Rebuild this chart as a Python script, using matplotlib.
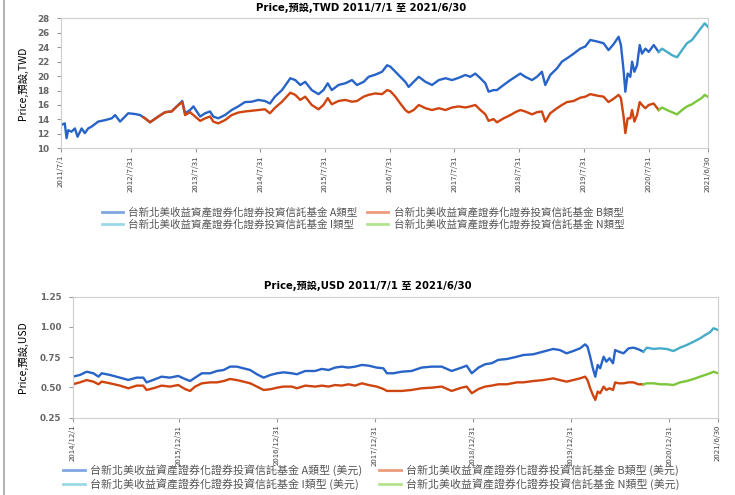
import matplotlib
matplotlib.use('Agg')
import matplotlib.pyplot as plt
from matplotlib.lines import Line2D
import pandas as pd

# ---- TWD panel (2011/7/1 - 2021/6/30) ----
twd_a_dates = ['2011-07-01', '2011-07-24', '2011-08-03', '2011-08-12', '2011-08-31', '2011-09-19',
               '2011-10-04', '2011-10-27', '2011-11-14', '2011-12-03', '2011-12-22', '2012-01-29',
               '2012-03-07', '2012-04-14', '2012-05-03', '2012-05-31', '2012-06-28', '2012-07-16',
               '2012-08-23', '2012-09-21', '2012-10-19', '2012-11-16', '2013-01-02', '2013-02-09',
               '2013-03-18', '2013-04-16', '2013-05-17', '2013-06-02', '2013-06-30', '2013-07-19',
               '2013-08-26', '2013-09-23', '2013-10-21', '2013-11-08', '2013-12-06', '2014-01-13',
               '2014-02-20', '2014-03-29', '2014-05-06', '2014-06-13', '2014-07-20', '2014-08-27',
               '2014-09-24', '2014-10-22', '2014-12-01', '2015-01-17', '2015-02-14', '2015-03-14',
               '2015-04-11', '2015-05-18', '2015-06-25', '2015-07-23', '2015-08-16', '2015-09-08',
               '2015-10-16', '2015-11-23', '2015-12-31', '2016-01-28', '2016-03-06', '2016-04-03',
               '2016-05-11', '2016-06-18', '2016-07-16', '2016-08-04', '2016-09-01', '2016-09-29',
               '2016-10-27', '2016-11-15', '2016-12-13', '2017-01-11', '2017-02-18', '2017-03-27',
               '2017-05-04', '2017-06-11', '2017-07-18', '2017-08-25', '2017-10-01', '2017-10-29',
               '2017-11-26', '2017-12-25', '2018-01-22', '2018-02-09', '2018-03-09', '2018-03-28',
               '2018-05-05', '2018-06-12', '2018-07-10', '2018-08-07', '2018-09-04', '2018-10-12',
               '2018-11-09', '2018-12-07', '2018-12-26', '2019-01-23', '2019-03-02', '2019-03-30',
               '2019-04-27', '2019-06-04', '2019-07-11', '2019-08-09', '2019-09-06', '2019-10-13',
               '2019-11-20', '2019-12-18', '2020-01-15', '2020-02-13', '2020-02-26', '2020-03-12',
               '2020-03-22', '2020-04-04', '2020-04-19', '2020-04-29', '2020-05-12', '2020-05-27',
               '2020-06-11', '2020-06-24', '2020-07-13', '2020-08-01', '2020-08-29', '2020-09-26']
twd_a = [13.2, 13.45, 11.4, 12.5, 12.3, 12.75,
         11.6, 12.75, 12.1, 12.75, 13.0, 13.7,
         13.9, 14.15, 14.6, 13.7, 14.4, 14.85,
         14.75, 14.6, 14.15, 13.6, 14.4, 15.0,
         15.1, 15.8, 16.55, 14.85, 15.3, 15.8,
         14.4, 14.85, 15.1, 14.4, 14.15, 14.6,
         15.3, 15.8, 16.4, 16.45, 16.7, 16.55,
         16.2, 17.15, 18.06, 19.7, 19.45, 18.77,
         19.2, 18.06, 17.5, 18.06, 19.0, 18.06,
         18.77, 19.0, 19.45, 18.77, 19.2, 19.9,
         20.2, 20.6, 21.5, 21.3, 20.6, 19.9,
         19.2, 18.5, 19.2, 19.9, 19.2, 18.77,
         19.45, 19.7, 19.45, 19.77, 20.15, 19.9,
         20.35, 19.7, 19.0, 17.84, 18.06, 18.06,
         18.77, 19.45, 19.9, 20.35, 19.9, 19.45,
         19.9, 20.6, 18.77, 20.15, 21.07, 22.0,
         22.45, 23.1, 23.8, 24.1, 25.0, 24.8,
         24.55, 23.6, 24.4, 25.45, 24.3, 20.8,
         17.84, 20.35, 19.9, 22.0, 20.6, 21.5,
         24.3, 23.1, 23.8, 23.35, 24.3, 23.35]

twd_b_dates = ['2012-10-09', '2012-10-19', '2012-11-16', '2013-01-02', '2013-02-09', '2013-03-18',
               '2013-04-16', '2013-05-17', '2013-06-02', '2013-06-30', '2013-07-19', '2013-08-26',
               '2013-09-23', '2013-10-21', '2013-11-08', '2013-12-06', '2014-01-13', '2014-02-20',
               '2014-03-29', '2014-05-06', '2014-06-13', '2014-07-20', '2014-08-27', '2014-09-24',
               '2014-10-22', '2014-12-01', '2015-01-17', '2015-02-14', '2015-03-14', '2015-04-11',
               '2015-05-18', '2015-06-25', '2015-07-23', '2015-08-16', '2015-09-08', '2015-10-16',
               '2015-11-23', '2015-12-31', '2016-01-28', '2016-03-06', '2016-04-03', '2016-05-11',
               '2016-06-18', '2016-07-16', '2016-08-04', '2016-09-01', '2016-09-29', '2016-10-27',
               '2016-11-15', '2016-12-13', '2017-01-11', '2017-02-18', '2017-03-27', '2017-05-04',
               '2017-06-11', '2017-07-18', '2017-08-25', '2017-10-01', '2017-10-29', '2017-11-26',
               '2017-12-25', '2018-01-22', '2018-02-09', '2018-03-09', '2018-03-28', '2018-05-05',
               '2018-06-12', '2018-07-10', '2018-08-07', '2018-09-04', '2018-10-12', '2018-11-09',
               '2018-12-07', '2018-12-26', '2019-01-23', '2019-03-02', '2019-03-30', '2019-04-27',
               '2019-06-04', '2019-07-11', '2019-08-09', '2019-09-06', '2019-10-13', '2019-11-20',
               '2019-12-18', '2020-01-15', '2020-02-13', '2020-02-26', '2020-03-12', '2020-03-22',
               '2020-04-04', '2020-04-19', '2020-04-29', '2020-05-12', '2020-05-27', '2020-06-11',
               '2020-06-24', '2020-07-13', '2020-08-01', '2020-08-29', '2020-09-26']
twd_b = [14.3, 14.15, 13.6, 14.4, 15.0, 15.1,
         15.8, 16.4, 14.6, 15.0, 14.6, 13.8,
         14.15, 14.4, 13.7, 13.45, 13.9, 14.6,
         14.95, 15.1, 15.2, 15.3, 15.4, 14.85,
         15.6, 16.45, 17.7, 17.4, 16.7, 17.15,
         16.0, 15.4, 16.0, 16.95, 16.1, 16.55,
         16.7, 16.45, 16.55, 17.15, 17.4, 17.6,
         17.5, 18.06, 17.9, 17.15, 16.2, 15.3,
         14.95, 15.3, 16.0, 15.55, 15.3, 15.55,
         15.3, 15.65, 15.8, 15.65, 15.8, 16.0,
         15.3, 14.7, 13.8, 14.05, 13.6, 14.15,
         14.6, 15.0, 15.3, 15.1, 14.7, 15.0,
         15.1, 13.7, 14.85, 15.55, 16.0, 16.4,
         16.55, 17.0, 17.15, 17.5, 17.3, 17.15,
         16.4, 16.85, 17.4, 16.95, 14.4, 12.1,
         14.15, 14.15, 15.3, 13.7, 14.6, 16.4,
         16.0, 15.55, 16.0, 16.2, 15.3]

twd_in_dates = ['2020-09-26', '2020-10-15', '2020-11-12', '2020-12-10', '2021-01-08', '2021-02-05',
                '2021-03-05', '2021-04-02', '2021-04-30', '2021-05-29', '2021-06-13', '2021-06-30']
twd_i = [23.35, 23.8, 23.35, 22.9, 22.6, 23.6, 24.55, 25.0, 25.9, 26.85, 27.3, 26.85]
twd_n = [15.3, 15.65, 15.3, 15.0, 14.7, 15.3, 15.8, 16.1, 16.55, 17.0, 17.4, 17.15]

twd_ticks = ['2011/7/1', '2012/7/31', '2013/7/31', '2014/7/31', '2015/7/31', '2016/7/31',
             '2017/7/31', '2018/7/31', '2019/7/31', '2020/7/31', '2021/6/30']

# ---- USD panel (2014/12/1 - 2021/6/30) ----
usd_ab_dates = ['2014-12-01', '2014-12-28', '2015-01-22', '2015-02-16', '2015-03-07', '2015-03-19',
                '2015-04-19', '2015-05-26', '2015-06-26', '2015-07-27', '2015-08-21', '2015-09-02',
                '2015-09-27', '2015-10-28', '2015-11-28', '2015-12-29', '2016-01-23', '2016-02-11',
                '2016-03-01', '2016-03-26', '2016-04-26', '2016-05-21', '2016-06-15', '2016-07-09',
                '2016-08-03', '2016-08-28', '2016-09-22', '2016-10-17', '2016-11-11', '2016-12-06',
                '2016-12-31', '2017-01-24', '2017-02-24', '2017-03-15', '2017-04-15', '2017-05-22',
                '2017-06-16', '2017-07-11', '2017-08-04', '2017-08-29', '2017-09-23', '2017-10-18',
                '2017-11-12', '2017-12-07', '2018-01-06', '2018-01-31', '2018-02-13', '2018-03-09',
                '2018-04-09', '2018-05-16', '2018-06-22', '2018-07-30', '2018-09-05', '2018-10-12',
                '2018-11-18', '2018-12-07', '2018-12-26', '2019-01-20', '2019-02-14', '2019-03-10',
                '2019-04-04', '2019-05-06', '2019-06-12', '2019-07-06', '2019-08-12', '2019-09-18',
                '2019-10-25', '2019-11-19', '2019-12-14', '2020-01-08', '2020-02-02', '2020-02-21',
                '2020-03-01', '2020-03-11', '2020-03-21', '2020-03-30', '2020-04-08', '2020-04-17',
                '2020-04-30', '2020-05-10', '2020-05-22', '2020-06-04', '2020-06-12', '2020-06-25',
                '2020-07-13', '2020-08-01', '2020-08-19', '2020-09-07', '2020-09-25']
usd_a = [0.589, 0.603, 0.630, 0.617, 0.589, 0.617,
         0.603, 0.581, 0.562, 0.581, 0.581, 0.542,
         0.562, 0.589, 0.581, 0.595, 0.570, 0.553,
         0.581, 0.617, 0.617, 0.636, 0.644, 0.672,
         0.672, 0.658, 0.644, 0.609, 0.581, 0.603,
         0.617, 0.625, 0.617, 0.609, 0.636, 0.636,
         0.653, 0.644, 0.664, 0.672, 0.664, 0.672,
         0.686, 0.680, 0.664, 0.658, 0.617, 0.617,
         0.630, 0.636, 0.664, 0.672, 0.672, 0.636,
         0.664, 0.680, 0.617, 0.664, 0.692, 0.700,
         0.728, 0.735, 0.754, 0.768, 0.774, 0.796,
         0.818, 0.809, 0.782, 0.801, 0.823, 0.856,
         0.837, 0.754, 0.658, 0.589, 0.686, 0.658,
         0.754, 0.713, 0.741, 0.700, 0.809, 0.796,
         0.782, 0.823, 0.829, 0.815, 0.796]
usd_b = [0.526, 0.542, 0.561, 0.548, 0.526, 0.548,
         0.534, 0.515, 0.493, 0.515, 0.515, 0.479,
         0.493, 0.515, 0.507, 0.520, 0.487, 0.471,
         0.507, 0.534, 0.542, 0.542, 0.553, 0.570,
         0.561, 0.548, 0.534, 0.507, 0.479, 0.485,
         0.498, 0.507, 0.507, 0.493, 0.515, 0.507,
         0.515, 0.507, 0.520, 0.515, 0.526, 0.515,
         0.534, 0.520, 0.507, 0.487, 0.471, 0.471,
         0.471, 0.479, 0.493, 0.498, 0.507, 0.471,
         0.498, 0.507, 0.452, 0.487, 0.507, 0.515,
         0.526, 0.526, 0.542, 0.542, 0.553, 0.561,
         0.575, 0.561, 0.548, 0.561, 0.575, 0.589,
         0.561, 0.493, 0.438, 0.397, 0.466, 0.452,
         0.507, 0.479, 0.493, 0.479, 0.542, 0.534,
         0.534, 0.542, 0.542, 0.526, 0.526]

usd_in_dates = ['2020-09-25', '2020-10-08', '2020-11-02', '2020-11-26', '2020-12-21', '2021-01-15',
                '2021-02-09', '2021-03-06', '2021-03-31', '2021-04-24', '2021-05-13', '2021-05-31',
                '2021-06-13', '2021-06-30']
usd_i = [0.796, 0.829, 0.818, 0.823, 0.818, 0.801, 0.829, 0.851, 0.878, 0.906, 0.933, 0.956, 0.989, 0.975]
usd_n = [0.526, 0.534, 0.534, 0.526, 0.526, 0.520, 0.542, 0.553, 0.570, 0.589, 0.603, 0.617, 0.630, 0.617]

usd_ticks = ['2014/12/1', '2015/12/31', '2016/12/31', '2017/12/31', '2018/12/31', '2019/12/31',
             '2020/12/31', '2021/6/30']

fund = '台新北美收益資產證券化證券投資信託基金'
names_twd = [fund + ' A類型', fund + ' B類型', fund + ' I類型', fund + ' N類型']
names_usd = [n + ' (美元)' for n in names_twd]

COL_A = '#2864c8'
COL_B = '#cf4510'
COL_I = '#45adc9'
COL_N = '#7cc63a'
LEG = ['#7fa6e3', '#ec9b7b', '#9ad8e6', '#b3e38e']

CJK = ['DejaVu Sans', 'Noto Sans CJK TC']
NARROW = ['Liberation Sans Narrow', 'Noto Sans CJK TC']

fig = plt.figure(figsize=(7.35, 4.95), dpi=100)


def panel(rect, lines, ticks, ylim, yticks, yfmt):
    ax = fig.add_axes(rect)
    for dates, vals, col in lines:
        ax.plot(pd.to_datetime(dates), vals, color=col, lw=1.7, solid_joinstyle='round')
    tpos = pd.to_datetime(ticks, format='%Y/%m/%d')
    ax.set_xlim(tpos[0], tpos[-1])
    ax.set_xticks(tpos)
    ax.set_xticklabels(ticks, rotation=90, fontsize=5.6, color='#444', family=NARROW)
    ax.set_ylim(*ylim)
    ax.set_yticks(yticks)
    ax.set_yticklabels([yfmt % v for v in yticks], fontsize=6.3, color='#666',
                       fontweight='bold', family='DejaVu Sans')
    for s in ax.spines.values():
        s.set_color('#cfcfcf')
    ax.tick_params(axis='both', colors='#999', length=3, width=0.8)
    ax.tick_params(axis='x', labelcolor='#444', pad=2)
    ax.tick_params(axis='y', labelcolor='#666', pad=5)
    return ax


panel([0.0826, 0.7004, 0.8803, 0.2626],
      [(twd_a_dates, twd_a, COL_A), (twd_b_dates, twd_b, COL_B),
       (twd_in_dates, twd_i, COL_I), (twd_in_dates, twd_n, COL_N)],
      twd_ticks, (10, 28), list(range(10, 29, 2)), '%d')

panel([0.0989, 0.1562, 0.878, 0.2444],
      [(usd_ab_dates, usd_a, COL_A), (usd_ab_dates, usd_b, COL_B),
       (usd_in_dates, usd_i, COL_I), (usd_in_dates, usd_n, COL_N)],
      usd_ticks, (0.25, 1.25), [0.25, 0.5, 0.75, 1.0, 1.25], '%.2f')

# titles and axis labels
fig.text(0.491, 0.984, 'Price,預設,TWD 2011/7/1 至 2021/6/30', ha='center', va='center',
         fontsize=7.3, fontweight='bold', family=CJK)
fig.text(0.501, 0.422, 'Price,預設,USD 2011/7/1 至 2021/6/30', ha='center', va='center',
         fontsize=7.3, fontweight='bold', family=CJK)
fig.text(0.031, 0.832, 'Price,預設,TWD', rotation=90, ha='center', va='center',
         fontsize=7.5, family=NARROW)
fig.text(0.031, 0.279, 'Price,預設,USD', rotation=90, ha='center', va='center',
         fontsize=7.5, family=NARROW)

# legends (column-major order so rows are A/B and I/N)
order = [0, 2, 1, 3]
for names, x, y, fs, cs in [(names_twd, 0.494, 0.5586, 7.6, 0.9), (names_usd, 0.505, 0.0355, 7.9, 1.5)]:
    handles = [Line2D([], [], color=LEG[k], lw=2) for k in order]
    leg = fig.legend(handles, [names[k] for k in order], loc='center', ncol=2,
                     bbox_to_anchor=(x, y), frameon=False, handlelength=2.0,
                     handletextpad=0.5, columnspacing=cs, labelspacing=0.2,
                     borderpad=0.0, prop={'family': 'Noto Sans CJK TC', 'size': fs})
    for t in leg.get_texts():
        t.set_color('#555')

# grey frame line on the left edge
fig.add_artist(Line2D([0.005, 0.005], [0, 1], transform=fig.transFigure, color='#b5b5b5', lw=1.5))

fig.savefig('out.png', dpi=100)
